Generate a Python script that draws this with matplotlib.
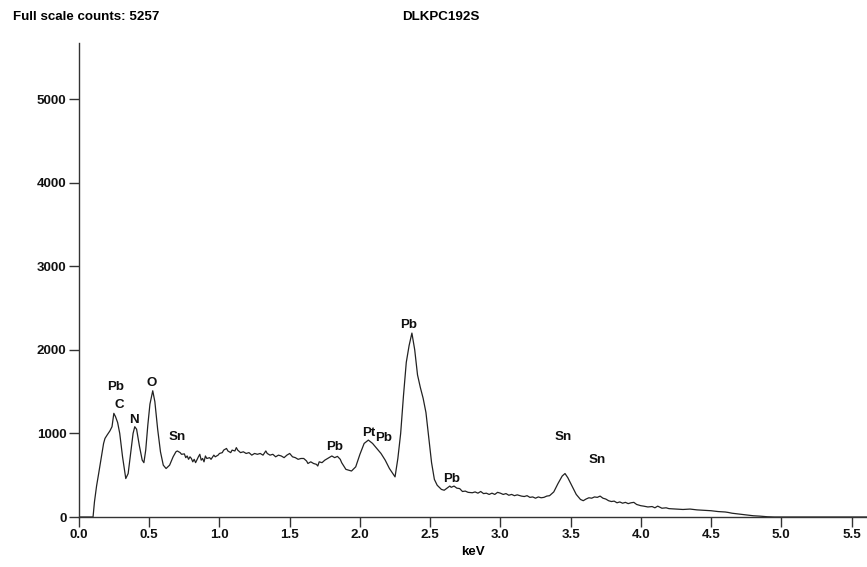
import matplotlib
matplotlib.use("Agg")
import matplotlib.pyplot as plt

# ================= DATA =================
# energy axis (keV) and counts, segment by segment
ENERGY_KEV = [
    0.0, 0.09, 0.10, 0.11, 0.125, 0.14, 0.16, 0.175, 0.185, 0.20, 0.22, 0.235,
    0.248, 0.26, 0.275, 0.29, 0.31, 0.333, 0.35, 0.37, 0.385, 0.397, 0.41, 0.43,
    0.45, 0.462, 0.475, 0.49, 0.505, 0.525, 0.54, 0.56, 0.58, 0.60,
    0.62, 0.645, 0.67, 0.69, 0.70, 0.72, 0.73, 0.75, 0.76, 0.77,
    0.78, 0.79, 0.80, 0.81, 0.82, 0.83, 0.85, 0.86, 0.87, 0.88,
    0.89, 0.90, 0.91, 0.93, 0.94, 0.96, 0.97, 0.99, 1.00, 1.02,
    1.03, 1.05, 1.06, 1.08, 1.09, 1.11, 1.12, 1.13, 1.15, 1.17,
    1.19, 1.21, 1.23, 1.25, 1.27, 1.29, 1.31, 1.33, 1.34, 1.36,
    1.38, 1.40, 1.42, 1.44, 1.46, 1.48, 1.50, 1.52, 1.54, 1.56,
    1.58, 1.60, 1.62, 1.63, 1.65, 1.67, 1.69, 1.70, 1.71, 1.73,
    1.75, 1.77, 1.80, 1.82, 1.84, 1.86, 1.87, 1.90, 1.94, 1.97,
    2.00, 2.03, 2.06, 2.09, 2.12, 2.15, 2.18, 2.21, 2.25, 2.27, 2.29, 2.31,
    2.33, 2.35, 2.37, 2.39, 2.41, 2.43, 2.45, 2.47, 2.49, 2.51, 2.53,
    2.55, 2.58, 2.60, 2.62, 2.64, 2.65, 2.67, 2.69, 2.71, 2.73,
    2.75, 2.77, 2.80, 2.82, 2.84, 2.86, 2.88, 2.90, 2.92, 2.94,
    2.96, 2.98, 3.00, 3.02, 3.04, 3.06, 3.08, 3.10, 3.12, 3.15,
    3.17, 3.19, 3.21, 3.23, 3.25, 3.27, 3.29, 3.31, 3.33, 3.35,
    3.38, 3.41, 3.44, 3.46, 3.48, 3.51,
    3.54, 3.57, 3.59, 3.61, 3.63, 3.65, 3.67, 3.69, 3.71, 3.73,
    3.75, 3.77, 3.79, 3.81, 3.83, 3.85, 3.87, 3.89, 3.91, 3.93,
    3.95, 3.97, 4.00, 4.02, 4.05, 4.08, 4.10, 4.12, 4.15, 4.18,
    4.20, 4.25, 4.30, 4.35, 4.40, 4.45, 4.50, 4.55, 4.60, 4.62,
    4.65, 4.70, 4.75, 4.80, 4.85, 4.90, 4.95, 5.61,
]
COUNTS = [
    0, 0, 0, 180, 370, 520, 730, 880, 940, 980, 1030, 1080,
    1240, 1200, 1130, 1000, 720, 460, 520, 800, 1000, 1080, 1050, 850,
    680, 650, 800, 1100, 1350, 1510, 1380, 1050, 780, 620,
    580, 620, 720, 780, 790, 770, 750, 755, 710, 730,
    690, 720, 700, 660, 690, 650, 720, 750, 680, 700,
    660, 730, 700, 710, 690, 740, 720, 740, 760, 770,
    800, 820, 790, 770, 800, 790, 830, 800, 770, 780,
    760, 770, 740, 760, 750, 760, 740, 790, 760, 740,
    750, 720, 740, 730, 710, 740, 760, 720, 710, 690,
    700, 700, 670, 640, 660, 640, 630, 610, 660, 650,
    680, 700, 730, 710, 725, 690, 650, 570, 550, 600,
    750, 880, 920, 880, 820, 760, 680, 580, 480, 700, 1000, 1450,
    1850, 2050, 2200, 2000, 1700, 1550, 1420, 1250, 950, 650, 450,
    380, 330, 320, 345, 370, 355, 370, 345, 340, 305,
    310, 295, 290, 300, 285, 305, 280, 285, 270, 285,
    270, 295, 285, 270, 280, 260, 270, 255, 265, 250,
    245, 255, 235, 240, 225, 240, 230, 235, 250, 255,
    300, 400, 490, 520, 470, 370,
    270, 210, 195, 215, 230, 225, 240, 235, 250, 225,
    215, 195, 185, 190, 170, 180, 165, 175, 160, 170,
    175, 150, 135, 130, 120, 125, 110, 130, 105, 110,
    100, 95, 90, 95, 85, 80, 75, 65, 60, 55,
    45, 35, 25, 15, 10, 3, 0, 0,
]

PEAK_LABELS = ["Pb", "C", "N", "O", "Sn", "Pb", "Pt", "Pb", "Pb", "Pb", "Sn", "Sn"]
PEAK_X = [0.26, 0.29, 0.39, 0.52, 0.70, 1.82, 2.06, 2.17, 2.35, 2.65, 3.45, 3.69]
PEAK_Y = [1560, 1340, 1160, 1600, 960, 840, 1000, 940, 2300, 460, 960, 680]

TITLE_LEFT = "Full scale counts: 5257"
TITLE_CENTER = "DLKPC192S"
# ========================================

FONT = ["Liberation Sans", "DejaVu Sans"]
FS = 9.6
plt.rcParams["font.family"] = FONT
plt.rcParams["font.weight"] = "bold"

fig = plt.figure(figsize=(8.67, 5.67), dpi=100)
ax = fig.add_axes([79 / 867, 1 - 517 / 567, 1 - 79 / 867, (517 - 43) / 567])

ax.plot(ENERGY_KEV, COUNTS, color="#222222", linewidth=0.9)

for label, x, y in zip(PEAK_LABELS, PEAK_X, PEAK_Y):
    ax.text(x, y, label, ha="center", va="center", fontsize=FS,
            fontweight="bold", color="#111111")

ax.set_xlim(0, 5.61)
ax.set_ylim(0, 5670)
ax.set_xticks([0.0, 0.5, 1.0, 1.5, 2.0, 2.5, 3.0, 3.5, 4.0, 4.5, 5.0, 5.5])
ax.set_xticklabels([f"{t:.1f}" for t in ax.get_xticks()])
ax.set_yticks([0, 1000, 2000, 3000, 4000, 5000])

for side in ["top", "right"]:
    ax.spines[side].set_visible(False)
for side in ["left", "bottom"]:
    ax.spines[side].set_color("#333333")
    ax.spines[side].set_linewidth(1.0)

ax.tick_params(axis="both", direction="out", length=7, width=1,
               color="#333333", labelsize=FS, labelcolor="#111111", pad=2)
for lbl in ax.get_xticklabels() + ax.get_yticklabels():
    lbl.set_fontweight("bold")

ax.set_xlabel("keV", fontsize=FS, fontweight="bold", labelpad=3)

fig.text(13 / 867, 1 - 17 / 567, TITLE_LEFT, ha="left", va="center",
         fontsize=FS, fontweight="bold")
fig.text(441 / 867, 1 - 17 / 567, TITLE_CENTER, ha="center", va="center",
         fontsize=FS, fontweight="bold")

fig.savefig("out.png", dpi=100)
